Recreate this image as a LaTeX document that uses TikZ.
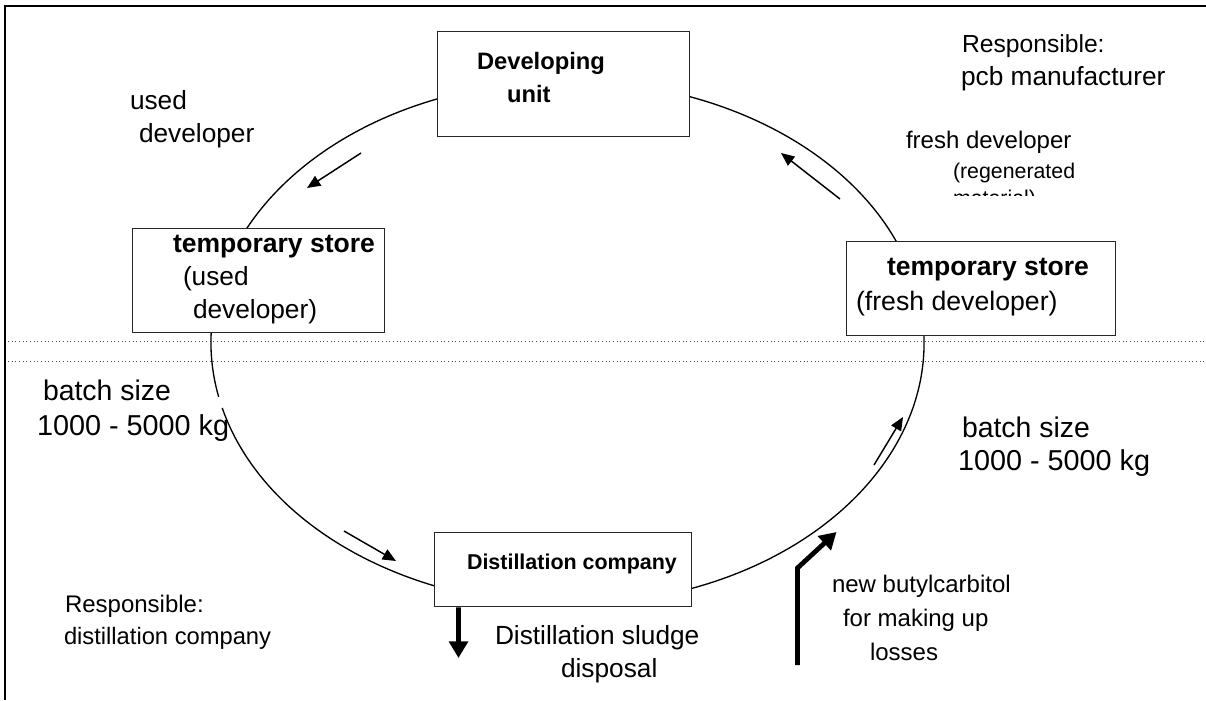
\documentclass[tikz,border=0pt]{standalone}
\usepackage{fontspec}
\setmainfont{Liberation Sans}
\usetikzlibrary{arrows.meta}
\newcommand\fsz[1]{\fontsize{#1}{#1}\selectfont}
\begin{document}
\begin{tikzpicture}[x=0.75pt,y=-0.75pt,
  txt/.style={anchor=base west, inner sep=0pt, outer sep=0pt, text=black},
  box/.style={draw=black!85, line width=1pt, fill=white, inner sep=0pt, anchor=north west},
  loopline/.style={line width=1pt, black},
  sarrow/.style={-{Triangle[length=10pt,width=8.5pt]}, line width=1.1pt},
  tarrow/.style={-{Triangle[length=12.5pt,width=14pt]}, line width=3.6pt, line join=miter},
  sepline/.style={dotted, line width=0.75pt, black!70}]
\useasboundingbox (0,0) rectangle (1206,700);
% frame
\draw[line width=1.5pt] (5,700) -- (5,6) -- (1206,6);
% separators
\draw[sepline] (8,341) -- (1206,341);
\draw[sepline] (8,361) -- (1206,361);
% cycle
\coordinate (ctr) at (567.5,342.8);
\draw[loopline] ([shift={(ctr)}]168.1:356.5 and 262) arc[start angle=168.1, end angle=525.6, x radius=356.5, y radius=262];
% boxes
\node[box, minimum width=189pt, minimum height=78.75pt] (dev) at (437,31) {};
\node[box, minimum width=189pt, minimum height=78pt] (tsl) at (132,228) {};
\node[box, minimum width=201.75pt, minimum height=70.5pt] (tsr) at (846,241) {};
\node[box, minimum width=192.75pt, minimum height=55.5pt] (dist) at (434,532) {};
% box texts
\node[txt] (dev1) at (477,69) {\fsz{17.8pt}\bfseries Developing};
\node[txt] (dev2) at (507,102) {\fsz{17.8pt}\bfseries unit};
\node[txt] (tsl1) at (173,252) {\fsz{19.9pt}\bfseries temporary store};
\node[txt] (tsl2) at (183,285) {\fsz{19.7pt}(used};
\node[txt] (tsl3) at (193,318) {\fsz{19.7pt}developer)};
\node[txt] (tsr1) at (887,275) {\fsz{19.9pt}\bfseries temporary store};
\node[txt] (tsr2) at (856,310) {\fsz{20pt}(fresh developer)};
\node[txt] (dc) at (467,569) {\fsz{16.1pt}\bfseries Distillation company};
% free texts
\node[txt] (resp1a) at (962,52) {\fsz{18.5pt}Responsible:};
\node[txt] (resp1b) at (961,85) {\fsz{19.7pt}pcb manufacturer};
\node[txt] (used1) at (130,109) {\fsz{19.7pt}used};
\node[txt] (used2) at (139,142) {\fsz{19.7pt}developer};
\node[txt] (fresh1) at (906,148) {\fsz{18pt}fresh developer};
\node[txt] (fresh2) at (953,178) {\fsz{16pt}(regenerated};
\begin{scope}
\clip (940,150) rectangle (1100,195.5);
\node[txt] (fresh3) at (953,205) {\fsz{16pt}material)};
\end{scope}
\node[txt] (batchL1) at (43,400) {\fsz{21.3pt}batch size};
\node[txt] (batchL2) at (37,435) {\fsz{21.6pt}1000 - 5000 kg};
\node[txt] (batchR1) at (962,437) {\fsz{21.3pt}batch size};
\node[txt] (batchR2) at (958,470) {\fsz{21.6pt}1000 - 5000 kg};
\node[txt] (sl1) at (495,644) {\fsz{19.7pt}Distillation sludge};
\node[txt] (sl2) at (561,677) {\fsz{19.7pt}disposal};
\node[txt] (resp2a) at (65,612) {\fsz{18pt}Responsible:};
\node[txt] (resp2b) at (64,644) {\fsz{17.8pt}distillation company};
\node[txt] (nb1) at (832,592) {\fsz{18pt}new butylcarbitol};
\node[txt] (nb2) at (843,626) {\fsz{18pt}for making up};
\node[txt] (nb3) at (870,660) {\fsz{18pt}losses};
% flow arrows
\coordinate (a1s) at (361,153); \coordinate (a1e) at (307,188);
\coordinate (a2s) at (840,199); \coordinate (a2e) at (781,153);
\coordinate (a3s) at (344,531); \coordinate (a3e) at (396,561);
\coordinate (a4s) at (874,465); \coordinate (a4e) at (903,417);
\draw[sarrow] (a1s) -- (a1e);
\draw[sarrow] (a2s) -- (a2e);
\draw[sarrow] (a3s) -- (a3e);
\draw[sarrow] (a4s) -- (a4e);
% sludge arrow
\coordinate (sludge) at (458.5,658);
\draw[tarrow] ([xshift=18.4pt]dist.south west) -- (sludge);
% butylcarbitol arrow
\coordinate (nbs) at (797.5,665);
\coordinate (nbk) at (797.5,568);
\coordinate (nbe) at (836.5,532);
\draw[tarrow] (nbs) -- (nbk) -- (nbe);
\end{tikzpicture}
\end{document}
